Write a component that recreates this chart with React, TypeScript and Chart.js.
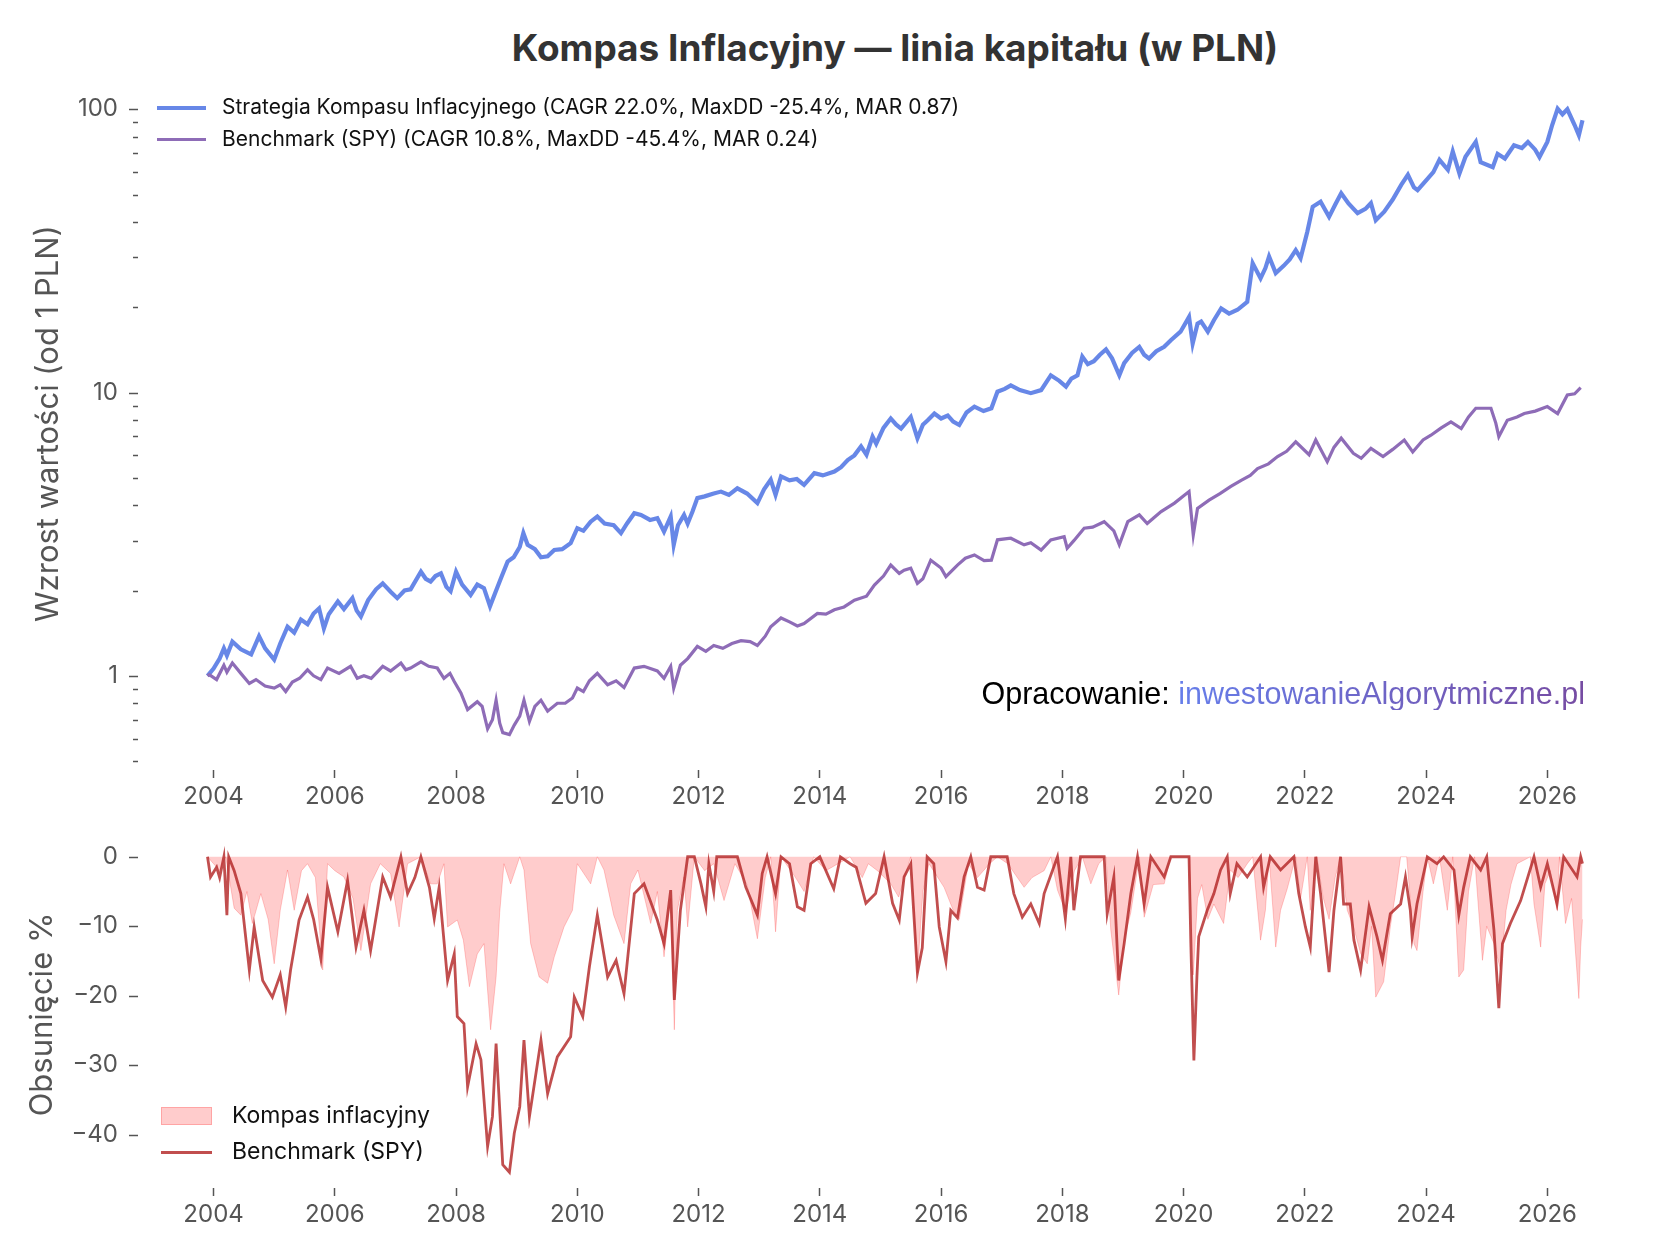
import { useEffect, useRef } from 'react';
import Chart from 'chart.js/auto';

const FONT = 'Inter, "Noto Sans", sans-serif';
const TICK_COLOR = '#555555';
const X_MIN = 2002.77;
const X_MAX = 2027.71;

const xTickYears = [2004, 2006, 2008, 2010, 2012, 2014, 2016, 2018, 2020, 2022, 2024, 2026];
const equityMajorTicks = [1, 10, 100];
const equityMinorTicks = [0.5, 0.6, 0.7, 0.8, 0.9, 2, 3, 4, 5, 6, 7, 8, 9, 20, 30, 40, 50, 60, 70, 80, 90];
const drawdownTicks = [0, -10, -20, -30, -40];

// [year, growth of 1 PLN]
const strategyEquity: [number, number][] = [
  [2003.90, 1.00], [2004.00, 1.06], [2004.10, 1.15], [2004.17, 1.25], [2004.22, 1.18], [2004.31, 1.32],
  [2004.45, 1.24], [2004.62, 1.19], [2004.75, 1.38], [2004.85, 1.25], [2005.00, 1.14], [2005.10, 1.30],
  [2005.22, 1.49], [2005.33, 1.42], [2005.44, 1.58], [2005.55, 1.52], [2005.65, 1.66], [2005.74, 1.73],
  [2005.82, 1.47], [2005.90, 1.65], [2006.05, 1.83], [2006.15, 1.72], [2006.29, 1.88], [2006.36, 1.70],
  [2006.43, 1.62], [2006.55, 1.85], [2006.68, 2.02], [2006.79, 2.12], [2006.92, 1.98], [2007.03, 1.88],
  [2007.15, 2.00], [2007.25, 2.02], [2007.42, 2.33], [2007.50, 2.20], [2007.58, 2.15], [2007.66, 2.25],
  [2007.75, 2.30], [2007.84, 2.06], [2007.91, 1.99], [2008.00, 2.33], [2008.10, 2.10], [2008.24, 1.93],
  [2008.35, 2.10], [2008.46, 2.04], [2008.56, 1.76], [2008.64, 1.95], [2008.74, 2.21], [2008.85, 2.53],
  [2008.95, 2.62], [2009.05, 2.85], [2009.11, 3.19], [2009.18, 2.90], [2009.30, 2.80], [2009.40, 2.62],
  [2009.51, 2.64], [2009.62, 2.78], [2009.75, 2.80], [2009.89, 2.94], [2010.00, 3.32], [2010.10, 3.25],
  [2010.22, 3.50], [2010.33, 3.65], [2010.45, 3.45], [2010.60, 3.40], [2010.72, 3.19], [2010.82, 3.45],
  [2010.94, 3.75], [2011.05, 3.70], [2011.20, 3.55], [2011.32, 3.60], [2011.43, 3.23], [2011.54, 3.65],
  [2011.59, 2.90], [2011.66, 3.40], [2011.76, 3.70], [2011.82, 3.45], [2011.90, 3.80], [2011.98, 4.24],
  [2012.10, 4.30], [2012.25, 4.40], [2012.37, 4.47], [2012.50, 4.35], [2012.64, 4.59], [2012.80, 4.40],
  [2012.97, 4.07], [2013.08, 4.55], [2013.19, 4.92], [2013.27, 4.35], [2013.36, 5.06], [2013.50, 4.90],
  [2013.62, 4.95], [2013.74, 4.72], [2013.91, 5.19], [2014.05, 5.10], [2014.24, 5.26], [2014.35, 5.45],
  [2014.46, 5.78], [2014.57, 6.00], [2014.68, 6.45], [2014.77, 6.03], [2014.87, 6.99], [2014.93, 6.60],
  [2015.05, 7.50], [2015.17, 8.10], [2015.26, 7.70], [2015.34, 7.46], [2015.50, 8.20], [2015.61, 6.90],
  [2015.70, 7.70], [2015.78, 7.98], [2015.89, 8.43], [2016.00, 8.10], [2016.11, 8.30], [2016.20, 7.90],
  [2016.30, 7.68], [2016.42, 8.50], [2016.55, 8.92], [2016.70, 8.60], [2016.83, 8.80], [2016.93, 10.07],
  [2017.05, 10.30], [2017.15, 10.60], [2017.30, 10.20], [2017.48, 9.95], [2017.65, 10.20], [2017.81, 11.50],
  [2017.95, 11.00], [2018.06, 10.50], [2018.15, 11.20], [2018.25, 11.50], [2018.33, 13.40], [2018.42, 12.60],
  [2018.52, 12.90], [2018.62, 13.60], [2018.72, 14.20], [2018.82, 13.20], [2018.94, 11.50], [2019.02, 12.70],
  [2019.15, 13.80], [2019.27, 14.50], [2019.35, 13.60], [2019.43, 13.20], [2019.55, 14.00], [2019.68, 14.50],
  [2019.79, 15.30], [2019.95, 16.40], [2020.09, 18.50], [2020.15, 14.90], [2020.23, 17.50], [2020.29, 17.80],
  [2020.40, 16.40], [2020.50, 18.00], [2020.62, 19.80], [2020.75, 19.00], [2020.89, 19.60], [2021.05, 20.90],
  [2021.14, 28.60], [2021.27, 25.30], [2021.35, 27.50], [2021.41, 30.20], [2021.52, 26.40], [2021.65, 28.00],
  [2021.75, 29.50], [2021.85, 31.80], [2021.93, 29.80], [2022.04, 36.90], [2022.13, 45.30], [2022.26, 47.20],
  [2022.40, 41.70], [2022.50, 46.00], [2022.60, 50.50], [2022.72, 46.50], [2022.87, 43.00], [2023.00, 44.50],
  [2023.09, 46.60], [2023.17, 40.60], [2023.31, 43.50], [2023.45, 48.00], [2023.59, 54.10], [2023.70, 58.70],
  [2023.80, 53.00], [2023.86, 51.80], [2024.03, 57.00], [2024.12, 60.00], [2024.22, 66.30], [2024.36, 61.10],
  [2024.44, 71.00], [2024.55, 59.30], [2024.65, 68.00], [2024.82, 76.70], [2024.90, 65.00], [2025.10, 62.40],
  [2025.18, 69.60], [2025.30, 67.00], [2025.45, 74.60], [2025.58, 73.00], [2025.68, 76.70], [2025.80, 72.00],
  [2025.87, 67.80], [2026.00, 76.70], [2026.08, 88.00], [2026.17, 100.50], [2026.25, 96.00], [2026.33, 100.00],
  [2026.45, 88.00], [2026.52, 81.00], [2026.58, 91.50],
];

const benchmarkEquity: [number, number][] = [
  [2003.90, 1.00], [2003.93, 1.01], [2004.05, 0.97], [2004.17, 1.09], [2004.22, 1.03], [2004.31, 1.11],
  [2004.45, 1.02], [2004.59, 0.94], [2004.70, 0.97], [2004.85, 0.92], [2005.00, 0.905], [2005.10, 0.93],
  [2005.19, 0.88], [2005.30, 0.95], [2005.42, 0.98], [2005.55, 1.05], [2005.65, 1.00], [2005.77, 0.97],
  [2005.88, 1.065], [2006.07, 1.02], [2006.26, 1.08], [2006.37, 0.98], [2006.48, 1.00], [2006.60, 0.98],
  [2006.79, 1.08], [2006.92, 1.04], [2007.09, 1.11], [2007.17, 1.05], [2007.25, 1.065], [2007.42, 1.12],
  [2007.55, 1.08], [2007.69, 1.065], [2007.80, 0.98], [2007.90, 1.02], [2007.97, 0.955], [2008.08, 0.87],
  [2008.19, 0.76], [2008.35, 0.81], [2008.43, 0.78], [2008.52, 0.65], [2008.60, 0.70], [2008.66, 0.82],
  [2008.72, 0.68], [2008.77, 0.63], [2008.88, 0.62], [2008.96, 0.67], [2009.05, 0.72], [2009.12, 0.82],
  [2009.21, 0.69], [2009.30, 0.78], [2009.40, 0.82], [2009.51, 0.75], [2009.67, 0.80], [2009.80, 0.80],
  [2009.92, 0.835], [2010.00, 0.905], [2010.10, 0.88], [2010.20, 0.96], [2010.33, 1.02], [2010.50, 0.93],
  [2010.64, 0.96], [2010.77, 0.91], [2010.94, 1.065], [2011.10, 1.08], [2011.32, 1.04], [2011.43, 0.98],
  [2011.54, 1.08], [2011.59, 0.905], [2011.70, 1.09], [2011.82, 1.15], [2011.98, 1.27], [2012.12, 1.22],
  [2012.25, 1.28], [2012.40, 1.25], [2012.55, 1.30], [2012.70, 1.33], [2012.85, 1.32], [2012.97, 1.28],
  [2013.10, 1.38], [2013.19, 1.49], [2013.36, 1.60], [2013.50, 1.55], [2013.63, 1.50], [2013.74, 1.53],
  [2013.96, 1.66], [2014.10, 1.65], [2014.24, 1.71], [2014.40, 1.75], [2014.57, 1.85], [2014.77, 1.91],
  [2014.90, 2.09], [2015.05, 2.25], [2015.17, 2.46], [2015.31, 2.30], [2015.39, 2.36], [2015.50, 2.40],
  [2015.61, 2.12], [2015.70, 2.20], [2015.83, 2.56], [2016.00, 2.40], [2016.08, 2.24], [2016.27, 2.46],
  [2016.40, 2.60], [2016.55, 2.67], [2016.71, 2.55], [2016.83, 2.56], [2016.93, 3.02], [2017.15, 3.06],
  [2017.37, 2.90], [2017.48, 2.95], [2017.65, 2.78], [2017.81, 3.02], [2018.03, 3.10], [2018.08, 2.82],
  [2018.19, 3.00], [2018.36, 3.32], [2018.50, 3.35], [2018.69, 3.50], [2018.85, 3.25], [2018.94, 2.90],
  [2019.08, 3.50], [2019.27, 3.70], [2019.40, 3.45], [2019.50, 3.60], [2019.63, 3.80], [2019.85, 4.07],
  [2020.09, 4.47], [2020.16, 3.14], [2020.23, 3.90], [2020.42, 4.17], [2020.60, 4.40], [2020.78, 4.66],
  [2020.95, 4.90], [2021.10, 5.10], [2021.22, 5.39], [2021.40, 5.60], [2021.55, 5.94], [2021.70, 6.20],
  [2021.85, 6.70], [2022.07, 6.03], [2022.18, 6.80], [2022.37, 5.70], [2022.48, 6.40], [2022.60, 6.90],
  [2022.80, 6.10], [2022.93, 5.86], [2023.09, 6.35], [2023.29, 5.94], [2023.45, 6.30], [2023.64, 6.80],
  [2023.78, 6.17], [2023.95, 6.80], [2024.08, 7.07], [2024.25, 7.50], [2024.41, 7.88], [2024.58, 7.46],
  [2024.70, 8.20], [2024.82, 8.80], [2025.07, 8.80], [2025.15, 7.80], [2025.20, 6.99], [2025.34, 7.98],
  [2025.50, 8.20], [2025.62, 8.43], [2025.80, 8.60], [2026.00, 8.92], [2026.17, 8.43], [2026.33, 9.80],
  [2026.45, 9.90], [2026.55, 10.40],
];

// [year, drawdown %]
const strategyDrawdown: [number, number][] = [
  [2003.90, 0], [2004.00, -1], [2004.10, -2], [2004.20, 0], [2004.34, -7.4], [2004.45, -8.4],
  [2004.55, -5], [2004.64, -9.6], [2004.78, -5.3], [2004.90, -9], [2005.00, -15.4], [2005.10, -7.7],
  [2005.22, -1.9], [2005.33, -7.7], [2005.45, -2], [2005.55, -1], [2005.68, -3], [2005.80, -16.3],
  [2005.88, -1], [2006.00, -2], [2006.15, -2.9], [2006.30, -6], [2006.43, -13.5], [2006.59, -3.9],
  [2006.75, -1], [2006.92, -2.4], [2007.06, -10.1], [2007.20, -1], [2007.42, 0], [2007.58, -3.9],
  [2007.69, -3.9], [2007.80, -1], [2007.86, -10.1], [2008.02, -9.1], [2008.12, -12], [2008.22, -18.7],
  [2008.35, -14], [2008.46, -12.5], [2008.57, -24.9], [2008.66, -17.3], [2008.72, -8], [2008.79, -1],
  [2008.90, -3.9], [2009.05, 0], [2009.12, -1.9], [2009.23, -12.5], [2009.37, -17.3], [2009.51, -18.2],
  [2009.62, -14.4], [2009.78, -10.1], [2009.92, -7.7], [2010.00, -1], [2010.22, -3.9], [2010.33, 0],
  [2010.44, -1.9], [2010.60, -8.4], [2010.77, -12.5], [2010.88, -3.9], [2011.00, -1.9], [2011.21, -9.6],
  [2011.32, -5], [2011.43, -14.4], [2011.54, -6], [2011.60, -24.9], [2011.65, -7.7], [2011.76, -2.9],
  [2011.82, -10.1], [2011.93, 0], [2012.10, -2], [2012.25, -1], [2012.42, -6.3], [2012.60, -1],
  [2012.80, -4], [2012.97, -11.8], [2013.10, -3], [2013.19, 0], [2013.27, -10.8], [2013.36, 0],
  [2013.60, -3], [2013.74, -5], [2013.90, 0], [2014.10, -2], [2014.30, -1], [2014.50, 0],
  [2014.70, -3], [2014.80, -1], [2014.95, -2], [2015.17, -3.9], [2015.30, -5.8], [2015.50, 0],
  [2015.61, -16.7], [2015.70, -5], [2015.80, -1], [2016.05, -4.4], [2016.20, -7.7], [2016.30, -9],
  [2016.45, -1], [2016.60, -3], [2016.80, -1], [2016.93, 0], [2017.10, -1], [2017.37, -4.4],
  [2017.50, -3], [2017.70, -2], [2017.81, 0], [2017.92, -4.8], [2018.06, -8], [2018.20, -2],
  [2018.33, 0], [2018.47, -3.9], [2018.60, -1], [2018.72, 0], [2018.80, -10.6], [2018.93, -19.9],
  [2019.02, -12], [2019.13, -8], [2019.27, 0], [2019.35, -8.7], [2019.50, -4], [2019.68, -3.9],
  [2019.79, 0], [2020.09, 0], [2020.16, -17], [2020.23, -6], [2020.30, -4], [2020.40, -9],
  [2020.50, -6.8], [2020.66, -9.6], [2020.77, -1.9], [2020.90, -3], [2021.05, -1], [2021.14, 0],
  [2021.27, -12], [2021.35, -7.7], [2021.41, 0], [2021.52, -13], [2021.60, -7.7], [2021.71, -4.6],
  [2021.85, 0], [2021.93, -6], [2022.04, 0], [2022.09, -7.7], [2022.20, 0], [2022.30, -5.8],
  [2022.40, -9], [2022.50, -3], [2022.59, 0], [2022.70, -7.7], [2022.80, -10], [2022.92, -13.9],
  [2023.03, -15.4], [2023.10, -10], [2023.17, -20.2], [2023.30, -18], [2023.41, -10.1], [2023.50, -5],
  [2023.58, 0], [2023.68, 0], [2023.80, -12.5], [2023.85, -13.5], [2023.95, -5], [2024.02, 0],
  [2024.12, -3.9], [2024.22, 0], [2024.35, -7.7], [2024.44, 0], [2024.54, -17.3], [2024.62, -16.3],
  [2024.70, -5], [2024.80, 0], [2024.93, -14.9], [2025.00, -10], [2025.12, -12.5], [2025.23, -16.3],
  [2025.32, -7.7], [2025.40, -4], [2025.50, -1], [2025.72, 0], [2025.78, -6.8], [2025.89, -13],
  [2025.96, -3.9], [2026.05, -2], [2026.16, -7.7], [2026.20, 0], [2026.30, -9.6], [2026.40, -6],
  [2026.52, -20.4], [2026.55, -13], [2026.58, -9],
];

const benchmarkDrawdown: [number, number][] = [
  [2003.90, 0], [2003.95, -2.9], [2004.05, -1.5], [2004.10, -3], [2004.17, 0], [2004.22, -8.4],
  [2004.25, 0], [2004.34, -2], [2004.45, -5.3], [2004.59, -16.3], [2004.67, -10.1], [2004.81, -17.8],
  [2004.97, -20.2], [2005.10, -17], [2005.19, -21.6], [2005.27, -16.3], [2005.41, -9.1], [2005.55, -5.8],
  [2005.65, -9], [2005.77, -14.7], [2005.88, -4.4], [2006.05, -10.8], [2006.21, -3.4], [2006.35, -13],
  [2006.48, -7.7], [2006.59, -13.5], [2006.79, -2.9], [2006.92, -5.8], [2007.09, 0], [2007.20, -5.3],
  [2007.32, -3], [2007.42, 0], [2007.56, -4.4], [2007.64, -8.9], [2007.72, -4.4], [2007.86, -17.8],
  [2007.97, -14], [2008.02, -23], [2008.13, -24], [2008.19, -33.1], [2008.33, -26.9], [2008.41, -29.2],
  [2008.52, -41.7], [2008.60, -37.4], [2008.66, -26.9], [2008.77, -44.3], [2008.88, -45.4], [2008.96, -39.8],
  [2009.05, -36], [2009.12, -26.4], [2009.21, -37.4], [2009.40, -26.4], [2009.51, -34.1], [2009.67, -28.8],
  [2009.89, -25.9], [2009.95, -20.2], [2010.09, -23], [2010.20, -15.8], [2010.33, -8.4], [2010.50, -17.3],
  [2010.64, -14.9], [2010.77, -19.7], [2010.94, -5.3], [2011.10, -3.9], [2011.32, -9.1], [2011.43, -12.5],
  [2011.54, -4.8], [2011.60, -20.6], [2011.70, -7.7], [2011.82, 0], [2011.93, 0], [2012.04, -3.9],
  [2012.12, -7.2], [2012.17, -1], [2012.25, -5], [2012.30, 0], [2012.42, 0], [2012.64, 0],
  [2012.78, -4.4], [2012.97, -8.4], [2013.05, -2.4], [2013.13, 0], [2013.27, -5.3], [2013.36, 0],
  [2013.50, -1], [2013.63, -7.2], [2013.74, -7.7], [2013.85, -1], [2014.00, 0], [2014.10, -2],
  [2014.23, -4.6], [2014.34, 0], [2014.50, -1], [2014.60, -1.5], [2014.76, -6.7], [2014.92, -5.3],
  [2015.06, 0], [2015.20, -6.7], [2015.31, -9.1], [2015.39, -2.9], [2015.50, -1], [2015.61, -16.7],
  [2015.69, -13.1], [2015.77, 0], [2015.88, -1], [2015.97, -10.1], [2016.08, -15.1], [2016.16, -7.7],
  [2016.27, -8.8], [2016.38, -2.9], [2016.49, 0], [2016.60, -4.4], [2016.71, -4.8], [2016.82, 0],
  [2017.09, 0], [2017.20, -5.3], [2017.34, -8.7], [2017.48, -6.8], [2017.62, -9.6], [2017.70, -5.3],
  [2017.92, 0], [2018.05, -8.9], [2018.14, 0], [2018.19, -7.7], [2018.30, 0], [2018.69, 0],
  [2018.74, -8.2], [2018.85, -2.9], [2018.93, -17.8], [2019.02, -12.5], [2019.13, -5.3], [2019.24, 0],
  [2019.35, -6.8], [2019.46, 0], [2019.68, -2.9], [2019.79, 0], [2020.09, 0], [2020.12, -12.5],
  [2020.17, -29.3], [2020.22, -17.3], [2020.25, -11.5], [2020.39, -7.7], [2020.50, -5.3], [2020.61, -1.9],
  [2020.72, 0], [2020.77, -5.3], [2020.88, -1], [2021.05, -2.9], [2021.27, 0], [2021.32, -4.4],
  [2021.43, 0], [2021.60, -1.9], [2021.82, 0], [2021.90, -5.3], [2022.01, -10.1], [2022.09, -13],
  [2022.18, 0], [2022.26, -5.3], [2022.40, -16.6], [2022.48, -7.7], [2022.59, 0], [2022.64, -6.8],
  [2022.75, -6.8], [2022.81, -12], [2022.92, -16.3], [2023.06, -7.2], [2023.19, -11.5], [2023.28, -14.9],
  [2023.41, -8.2], [2023.58, -6.8], [2023.66, -2.9], [2023.74, -7.7], [2023.77, -11.5], [2023.85, -6.8],
  [2024.02, 0], [2024.18, -1], [2024.29, 0], [2024.46, -1.9], [2024.54, -8.4], [2024.62, -4.4],
  [2024.73, 0], [2024.90, -1.9], [2025.00, 0], [2025.12, -10.6], [2025.20, -21.8], [2025.26, -12.5],
  [2025.39, -9.6], [2025.56, -6.3], [2025.78, 0], [2025.89, -4.4], [2026.00, -1], [2026.16, -6.8],
  [2026.27, 0], [2026.49, -2.9], [2026.55, 0], [2026.58, -1],
];

const STRATEGY_COLOR = 'rgba(65, 105, 225, 0.8)';
const BENCHMARK_COLOR = 'rgb(142, 108, 183)';
const DD_FILL = 'rgba(255, 0, 0, 0.2)';
const DD_LINE = 'rgba(178, 34, 34, 0.8)';

const toXY = (rows: [number, number][]) => rows.map(([x, y]) => ({ x, y }));

// matplotlib-like y tick marks: long for labelled ticks, short for minor ones
const yTickMarks = {
  id: 'yTickMarks',
  afterDraw(chart: any, _args: any, opts: any) {
    const scale = chart.scales.y;
    const { ctx, chartArea } = chart;
    ctx.save();
    ctx.strokeStyle = TICK_COLOR;
    ctx.lineWidth = 1.5;
    for (const t of scale.ticks) {
      const py = Math.round(scale.getPixelForValue(t.value)) + 0.5;
      const len = opts.majors.includes(t.value) ? 9 : 5;
      ctx.beginPath();
      ctx.moveTo(chartArea.left - 1 - len, py);
      ctx.lineTo(chartArea.left - 1, py);
      ctx.stroke();
    }
    ctx.restore();
  },
};

const xScale = (height: number) => ({
  type: 'linear' as const,
  min: X_MIN,
  max: X_MAX,
  afterBuildTicks: (s: any) => { s.ticks = xTickYears.map((v) => ({ value: v })); },
  afterFit: (s: any) => { s.height = height; },
  grid: { drawOnChartArea: false, drawTicks: true, tickLength: 8, tickColor: TICK_COLOR, tickWidth: 1.5 },
  border: { display: false },
  ticks: {
    callback: (v: any) => String(v),
    color: TICK_COLOR,
    font: { family: FONT, size: 24 },
    padding: 4,
    autoSkip: false,
    maxRotation: 0,
  },
});

export default function App() {
  const topRef = useRef<HTMLCanvasElement>(null);
  const bottomRef = useRef<HTMLCanvasElement>(null);

  useEffect(() => {
    if (!topRef.current || !bottomRef.current) return;

    const top = new Chart(topRef.current, {
      type: 'line',
      data: {
        datasets: [
          { label: 'Benchmark (SPY)', data: toXY(benchmarkEquity), borderColor: BENCHMARK_COLOR, borderWidth: 3.2, pointRadius: 0 },
          { label: 'Strategia Kompasu Inflacyjnego', data: toXY(strategyEquity), borderColor: STRATEGY_COLOR, borderWidth: 4.2, pointRadius: 0 },
        ],
      },
      options: {
        responsive: false,
        animation: false,
        layout: { padding: { top: 77, right: 28, left: 0, bottom: 0 } },
        plugins: {
          legend: { display: false },
          tooltip: { enabled: false },
          yTickMarks: { majors: equityMajorTicks },
        } as any,
        scales: {
          x: xScale(60),
          y: {
            type: 'logarithmic',
            min: 0.465,
            max: 130,
            afterBuildTicks: (s: any) => {
              s.ticks = [...equityMinorTicks, ...equityMajorTicks].sort((a, b) => a - b).map((v) => ({ value: v }));
            },
            afterFit: (s: any) => { s.width = 139; },
            grid: { display: false, drawTicks: false },
            border: { display: false },
            ticks: {
              callback: (v: any) => (equityMajorTicks.includes(v) ? String(v) : ''),
              color: TICK_COLOR,
              font: { family: FONT, size: 24 },
              padding: 21,
              autoSkip: false,
            },
            title: {
              display: true,
              text: 'Wzrost wartości (od 1 PLN)',
              color: TICK_COLOR,
              font: { family: FONT, size: 31 },
              padding: { top: 30, bottom: 0 },
            },
          },
        },
      },
      plugins: [yTickMarks],
    });

    const bottom = new Chart(bottomRef.current, {
      type: 'line',
      data: {
        datasets: [
          { label: 'Benchmark (SPY)', data: toXY(benchmarkDrawdown), borderColor: DD_LINE, borderWidth: 2.8, pointRadius: 0, fill: false },
          { label: 'Kompas inflacyjny', data: toXY(strategyDrawdown), borderColor: 'rgba(255, 0, 0, 0.2)', borderWidth: 1, backgroundColor: DD_FILL, pointRadius: 0, fill: 'origin' },
        ],
      },
      options: {
        responsive: false,
        animation: false,
        layout: { padding: { top: 41, right: 28, left: 0, bottom: 0 } },
        plugins: {
          legend: { display: false },
          tooltip: { enabled: false },
          yTickMarks: { majors: drawdownTicks },
        } as any,
        scales: {
          x: xScale(72),
          y: {
            type: 'linear',
            min: -47.67,
            max: 2.27,
            afterBuildTicks: (s: any) => { s.ticks = drawdownTicks.map((v) => ({ value: v })); },
            afterFit: (s: any) => { s.width = 139; },
            grid: { display: false, drawTicks: false },
            border: { display: false },
            ticks: {
              callback: (v: any) => (v === 0 ? '0' : '\u2212' + Math.abs(v)),
              color: TICK_COLOR,
              font: { family: FONT, size: 24 },
              padding: 21,
              autoSkip: false,
            },
            title: {
              display: true,
              text: 'Obsunięcie %',
              color: TICK_COLOR,
              font: { family: FONT, size: 31 },
              padding: { top: 24, bottom: 0 },
            },
          },
        },
      },
      plugins: [yTickMarks],
    });

    return () => {
      top.destroy();
      bottom.destroy();
    };
  }, []);

  const text = { position: 'absolute' as const, fontFamily: FONT, color: '#111', whiteSpace: 'nowrap' as const };

  return (
    <div style={{ position: 'absolute', left: 0, top: 0, width: 1679, height: 1260, background: '#fff', overflow: 'hidden' }}>
      <div style={{ ...text, left: 139, width: 1512, top: 25, textAlign: 'center', fontSize: 37, lineHeight: '46px', fontWeight: 700, color: '#333' }}>
        Kompas Inflacyjny — linia kapitału (w PLN)
      </div>

      <canvas ref={topRef} width={1679} height={830} style={{ position: 'absolute', left: 0, top: 0, width: 1679, height: 830 }} />
      <canvas ref={bottomRef} width={1679} height={460} style={{ position: 'absolute', left: 0, top: 800, width: 1679, height: 460 }} />

      {/* legend of the equity panel */}
      <div style={{ position: 'absolute', left: 157, top: 105.5, width: 49, height: 4.5, background: STRATEGY_COLOR }} />
      <div style={{ ...text, left: 222, top: 94, fontSize: 21, lineHeight: '26px' }}>
        Strategia Kompasu Inflacyjnego (CAGR 22.0%, MaxDD -25.4%, MAR 0.87)
      </div>
      <div style={{ position: 'absolute', left: 157, top: 137.5, width: 49, height: 3.2, background: BENCHMARK_COLOR }} />
      <div style={{ ...text, left: 222, top: 126, fontSize: 21, lineHeight: '26px' }}>
        Benchmark (SPY) (CAGR 10.8%, MaxDD -45.4%, MAR 0.24)
      </div>

      {/* watermark */}
      <div style={{ ...text, right: 94, top: 675, fontSize: 30.5, lineHeight: '36px', fontFamily: '"Liberation Sans", Arial, sans-serif', color: '#000' }}>
        Opracowanie:{' '}
        <span style={{ background: 'linear-gradient(90deg, #667eea, #764ba2)', WebkitBackgroundClip: 'text', backgroundClip: 'text', color: 'transparent' }}>
          inwestowanieAlgorytmiczne.pl
        </span>
      </div>

      {/* legend of the drawdown panel */}
      <div style={{ position: 'absolute', left: 161, top: 1107, width: 51, height: 18, background: DD_FILL, border: '1px solid rgba(255, 0, 0, 0.2)', boxSizing: 'border-box' }} />
      <div style={{ ...text, left: 232, top: 1101, fontSize: 23, lineHeight: '28px' }}>Kompas inflacyjny</div>
      <div style={{ position: 'absolute', left: 161, top: 1150.5, width: 51, height: 3, background: DD_LINE }} />
      <div style={{ ...text, left: 232, top: 1137, fontSize: 23, lineHeight: '28px' }}>Benchmark (SPY)</div>
    </div>
  );
}
